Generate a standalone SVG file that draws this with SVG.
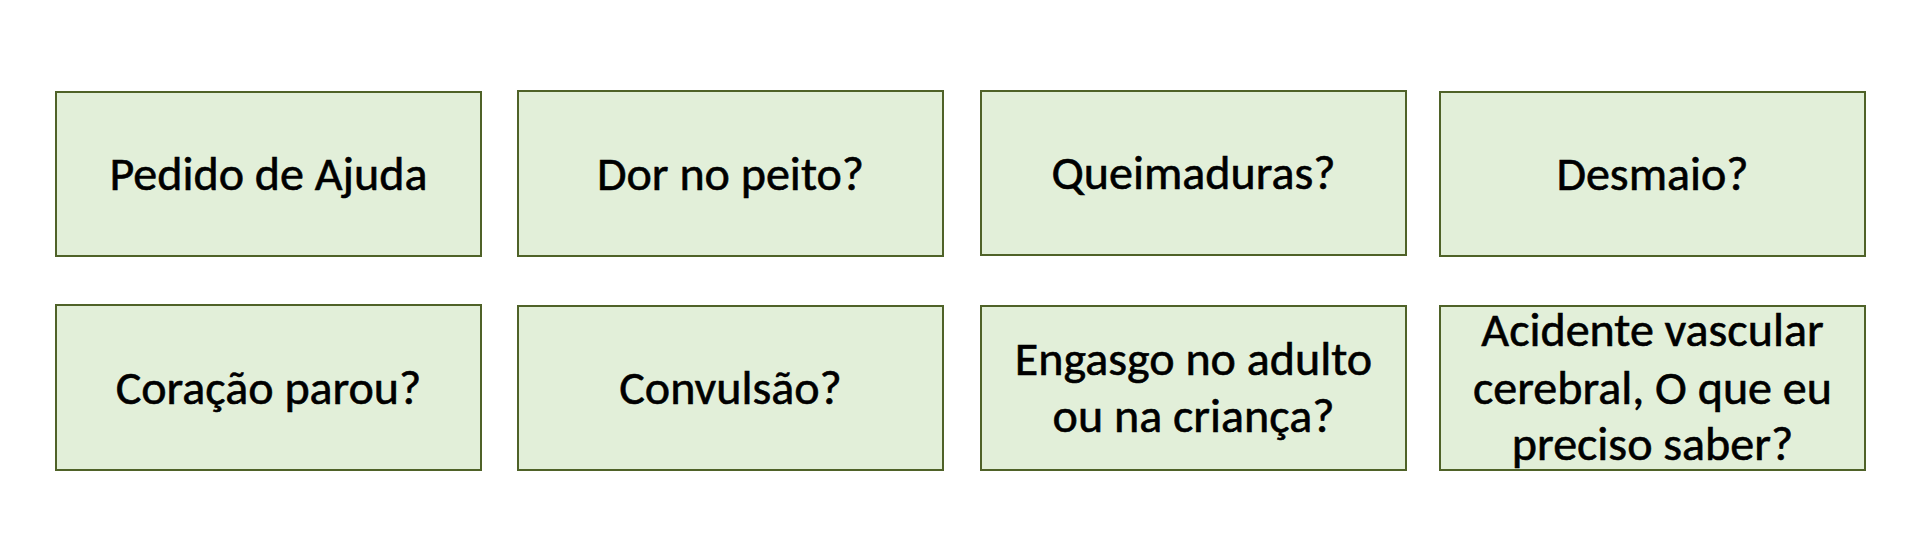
<svg xmlns="http://www.w3.org/2000/svg" width="1920" height="550" viewBox="0 0 1920 550">
<style>
.box{fill:#E2EFD9;stroke:#4F6228;stroke-width:2}
.t{font-family:Carlito,Lato,"Liberation Sans",sans-serif;font-size:48px;fill:#000;stroke:#000;stroke-width:0.6;text-anchor:middle}
</style>
<rect width="1920" height="550" fill="#fff"/>
<g id="node-pedido"><rect class="box" x="56" y="92" width="425" height="164"/><text class="t" x="268.5" y="190">Pedido de Ajuda</text></g>
<g id="node-dor"><rect class="box" x="518" y="91" width="425" height="165"/><text class="t" x="730.5" y="190">Dor no peito?</text></g>
<g id="node-queimaduras"><rect class="box" x="981" y="91" width="425" height="164"/><text class="t" x="1193.5" y="189">Queimaduras?</text></g>
<g id="node-desmaio"><rect class="box" x="1440" y="92" width="425" height="164"/><text class="t" x="1652.5" y="190">Desmaio?</text></g>
<g id="node-coracao"><rect class="box" x="56" y="305" width="425" height="165"/><text class="t" x="268.5" y="404">Coração parou?</text></g>
<g id="node-convulsao"><rect class="box" x="518" y="306" width="425" height="164"/><text class="t" x="730.5" y="404">Convulsão?</text></g>
<g id="node-engasgo"><rect class="box" x="981" y="306" width="425" height="164"/><text class="t" x="1193.5" y="375">Engasgo no adulto</text><text class="t" x="1193.5" y="432">ou na criança?</text></g>
<g id="node-avc"><rect class="box" x="1440" y="306" width="425" height="164"/><text class="t" x="1652.5" y="346">Acidente vascular</text><text class="t" x="1652.5" y="404">cerebral, O que eu</text><text class="t" x="1652.5" y="460">preciso saber?</text></g>
<g id="connectors"></g>
</svg>
